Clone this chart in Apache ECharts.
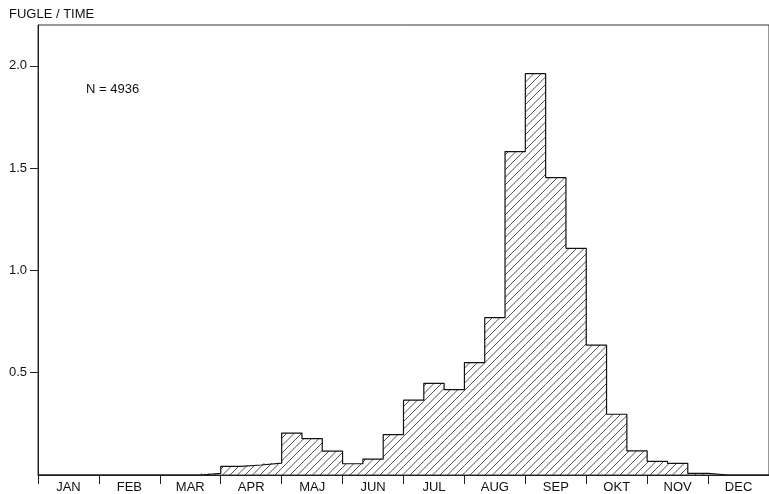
<!DOCTYPE html>
<html>
<head>
<meta charset="utf-8">
<script src="https://cdn.jsdelivr.net/npm/echarts@6/dist/echarts.min.js"></script>
<style>html,body{margin:0;padding:0;background:#fff}#c{width:769px;height:494px}</style>
</head>
<body>
<div id="c"></div>
<script>
// Month names (x-axis labels), each month split into three 10-day periods
const months = ['JAN','FEB','MAR','APR','MAJ','JUN','JUL','AUG','SEP','OKT','NOV','DEC'];
// Birds per hour for each 10-day period (3 per month)
const values = [
  0, 0, 0,            // JAN
  0, 0, 0,            // FEB
  0, 0, 0.008,        // MAR
  0.042, 0.049, 0.058,// APR
  0.205, 0.178, 0.117,// MAJ
  0.055, 0.078, 0.197,// JUN
  0.366, 0.448, 0.417,// JUL
  0.549, 0.769, 1.581,// AUG
  1.962, 1.454, 1.108,// SEP
  0.635, 0.297, 0.118,// OKT
  0.067, 0.057, 0.008,// NOV
  0, 0, 0             // DEC
];
const yTicks = [0.5, 1.0, 1.5, 2.0];
const yTitle = 'FUGLE / TIME';
const note = 'N = 4936';

const bins = months.flatMap(m => [m + '-1', m + '-2', m + '-3']);

// hatch pattern (two diagonal lines per 15px tile -> 7.5px spacing)
const s = 15, h = s / 2;
const cv = document.createElement('canvas');
cv.width = s; cv.height = s;
const cx = cv.getContext('2d');
cx.strokeStyle = '#3a3a3a';
cx.lineWidth = 0.9;
cx.beginPath();
cx.moveTo(0, s); cx.lineTo(s, 0);
cx.moveTo(-1, h + 1); cx.lineTo(h + 1, -1);
cx.moveTo(h - 1, s + 1); cx.lineTo(s + 1, h - 1);
cx.moveTo(-1, 1); cx.lineTo(1, -1);
cx.moveTo(s - 1, s + 1); cx.lineTo(s + 1, s - 1);
cx.stroke();

const outline = values.map((v, i) => [i, v]);
outline.push([values.length, values[values.length - 1]]);

const chart = echarts.init(document.getElementById('c'), null, {renderer: 'canvas'});
const font = 'Liberation Sans';
chart.setOption({
  animation: false,
  backgroundColor: '#fff',
  grid: {left: 38, top: 25, width: 736, height: 451, show: true, borderColor: '#333', borderWidth: 1, backgroundColor: 'transparent'},
  xAxis: [{
    type: 'category',
    data: bins,
    boundaryGap: true,
    axisLine: {lineStyle: {color: '#222', width: 1}},
    axisTick: {show: true, length: 9, interval: (i) => i % 3 === 0, lineStyle: {color: '#222'}},
    axisLabel: {interval: (i) => i % 3 === 1, formatter: (v) => v.split('-')[0], fontFamily: font, fontSize: 13, color: '#111', margin: 6},
    splitLine: {show: false}
  }, {
    type: 'value', min: 0, max: values.length, show: false
  }],
  yAxis: {
    type: 'value', min: 0, max: 2.2, interval: 0.5,
    axisLine: {show: true, lineStyle: {color: '#222', width: 1}},
    axisTick: {show: true, length: 8, customValues: yTicks, lineStyle: {color: '#222'}},
    axisLabel: {customValues: yTicks, formatter: (v) => v.toFixed(1), fontFamily: font, fontSize: 13, color: '#111', margin: 11},
    splitLine: {show: false}
  },
  graphic: [
    {type: 'text', left: 9, top: 8, style: {text: yTitle, font: '13px "Liberation Sans"', fill: '#111'}},
    {type: 'text', left: 86, top: 83, style: {text: note, font: '13px "Liberation Sans"', fill: '#111'}}
  ],
  series: [{
    type: 'bar',
    data: values,
    barCategoryGap: '0%',
    barGap: '0%',
    itemStyle: {color: {image: cv, repeat: 'repeat'}, borderWidth: 0},
    silent: true
  }, {
    type: 'line',
    xAxisIndex: 1,
    data: outline,
    step: 'end',
    symbol: 'none',
    lineStyle: {color: '#111', width: 1.2},
    silent: true
  }]
});
</script>
</body>
</html>
